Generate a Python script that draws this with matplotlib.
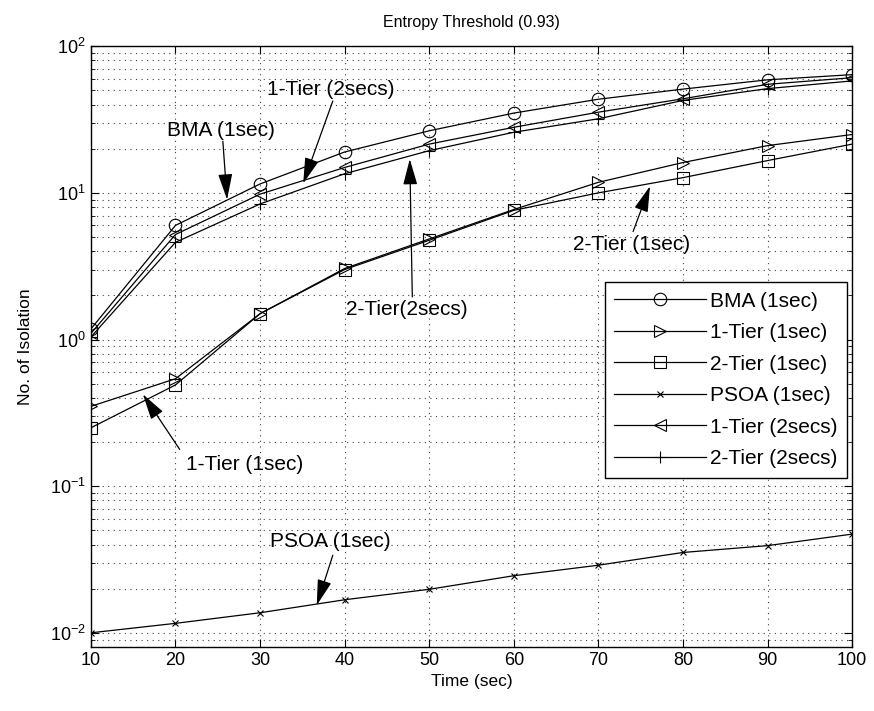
import matplotlib
matplotlib.use("Agg")
import matplotlib.pyplot as plt
from matplotlib.patches import ArrowStyle
from matplotlib.ticker import LogLocator, NullFormatter

plt.rcParams['font.family'] = ['Liberation Sans', 'DejaVu Sans']
plt.rcParams['mathtext.default'] = 'regular'

# data
time_sec = [10, 20, 30, 40, 50, 60, 70, 80, 90, 100]
bma_1s = [1.18, 6.0, 11.5, 19.0, 26.5, 35.0, 43.5, 51.0, 59.0, 64.0]
tier1_1s = [0.35, 0.54, 1.5, 3.05, 4.85, 7.7, 11.8, 16.1, 21.0, 25.0]
tier2_1s = [0.25, 0.49, 1.5, 3.0, 4.75, 7.6, 10.0, 12.7, 16.6, 21.5]
psoa_1s = [0.0100, 0.0116, 0.0137, 0.0168, 0.0198, 0.0245, 0.0289, 0.0353, 0.0393, 0.0471]
tier1_2s = [1.1, 5.2, 9.8, 14.9, 21.5, 28.0, 35.5, 43.8, 55.0, 61.0]
tier2_2s = [1.04, 4.6, 8.4, 13.5, 19.4, 25.9, 32.0, 42.7, 51.4, 58.0]

series = [
    (bma_1s, 'o', 'BMA (1sec)'),
    (tier1_1s, '>', '1-Tier (1sec)'),
    (tier2_1s, 's', '2-Tier (1sec)'),
    (psoa_1s, 'x', 'PSOA (1sec)'),
    (tier1_2s, '<', '1-Tier (2secs)'),
    (tier2_2s, '+', '2-Tier (2secs)'),
]

fig = plt.figure(figsize=(8.74, 7.11), dpi=100)
ax = fig.add_axes([0.104, 0.09, 0.871, 0.845])

for vals, mk, lab in series:
    ms = 5 if mk == 'x' else 9
    ax.plot(time_sec, vals, color='k', lw=0.9, marker=mk, markersize=ms,
            markerfacecolor='none', markeredgecolor='k', markeredgewidth=0.8,
            label=lab)

ax.set_yscale('log')
ax.set_xlim(10, 100)
ax.set_ylim(0.008, 100)
ax.set_xticks(time_sec)
ax.yaxis.set_major_locator(LogLocator(base=10, numticks=10))
ax.yaxis.set_minor_locator(LogLocator(base=10, subs=range(2, 10), numticks=20))
ax.yaxis.set_minor_formatter(NullFormatter())
ax.tick_params(which='both', direction='in', top=True, right=True, labelsize=13)
ax.tick_params(which='major', length=6)
ax.tick_params(which='minor', length=3)
dots = (0, (1, 4))
ax.grid(True, which='major', linestyle=dots, color='0.25', lw=0.8)
ax.grid(True, which='minor', axis='y', linestyle=dots, color='0.25', lw=0.8)
for sp in ax.spines.values():
    sp.set_linewidth(1.0)

ax.set_title('Entropy Threshold (0.93)', fontsize=11.5, pad=14)
ax.set_xlabel('Time (sec)', fontsize=12.5, labelpad=4)
ax.set_ylabel('No. of Isolation', fontsize=12.5, labelpad=12)

leg = ax.legend(loc='upper right', bbox_to_anchor=(0.993, 0.607), fontsize=15,
                numpoints=1, handlelength=4.4, handletextpad=0.2, labelspacing=0.6,
                borderpad=0.45, borderaxespad=0, fancybox=False, framealpha=1,
                edgecolor='k')
leg.get_frame().set_linewidth(1.0)

# arrow annotations: (label, text pos, arrow tail, arrow tip)
notes = [
    ('BMA (1sec)', (25.4, 26.6), (25.6, 22.5), (26.1, 9.0)),
    ('1-Tier (2secs)', (38.3, 50.8), (38.6, 42.3), (35.1, 11.6)),
    ('2-Tier(2secs)', (47.4, 1.60), (48.0, 1.95), (47.7, 17.0)),
    ('2-Tier (1sec)', (73.9, 4.47), (74.1, 5.45), (76.1, 11.1)),
    ('1-Tier (1sec)', (28.2, 0.141), (20.5, 0.178), (16.15, 0.423)),
    ('PSOA (1sec)', (38.3, 0.0418), (38.6, 0.0338), (36.7, 0.0154)),
]
head = ArrowStyle('-|>', head_length=0.8, head_width=0.22)
for txt, tpos, tail, tip in notes:
    ax.annotate('', xy=tip, xytext=tail,
                arrowprops=dict(arrowstyle=head, mutation_scale=20, color='k',
                                lw=0.9, shrinkA=0, shrinkB=0))
    ax.text(tpos[0], tpos[1], txt, fontsize=15, ha='center', va='center')

fig.savefig('out.png', dpi=100)
